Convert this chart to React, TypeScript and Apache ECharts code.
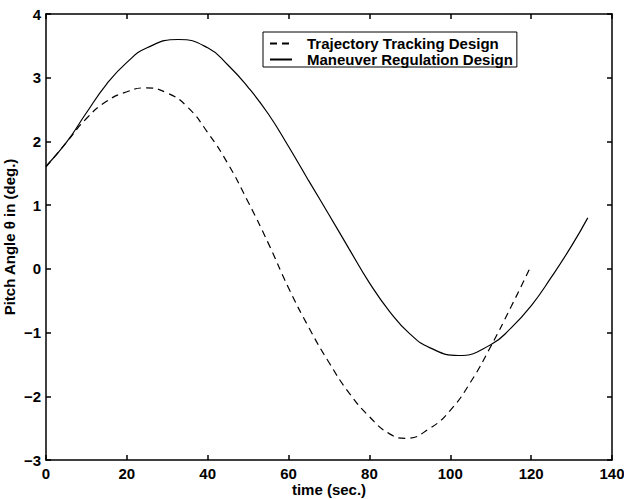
import React, { useEffect, useRef } from "react";
import * as echarts from "echarts";

const xTicks = [0, 20, 40, 60, 80, 100, 120, 140];
const yTicks = [-3, -2, -1, 0, 1, 2, 3, 4];

const seriesNames = ["Trajectory Tracking Design", "Maneuver Regulation Design"];

// Trajectory Tracking Design (dashed): time (sec.) and pitch (deg.)
const trackingTime = [0, 5, 10, 15, 20, 24.5, 30, 35, 40, 45, 50, 55, 60, 65, 70, 75, 80, 85, 89, 95, 100, 105, 110, 115, 120];
const trackingPitch = [1.6, 1.98, 2.36, 2.63, 2.78, 2.84, 2.76, 2.54, 2.14, 1.65, 1.05, 0.4, -0.3, -0.92, -1.47, -1.95, -2.32, -2.59, -2.66, -2.5, -2.22, -1.78, -1.22, -0.6, 0.05];

// Maneuver Regulation Design (solid): time (sec.) and pitch (deg.)
const regulationTime = [0, 5, 10, 15, 20, 25, 32.7, 40, 45, 50, 55, 60, 65, 70, 75, 80, 85, 90, 95, 102, 110, 115, 120, 125, 130, 134];
const regulationPitch = [1.61, 1.98, 2.45, 2.9, 3.24, 3.47, 3.6, 3.47, 3.2, 2.85, 2.43, 1.92, 1.38, 0.85, 0.31, -0.22, -0.67, -1.02, -1.24, -1.36, -1.19, -0.93, -0.58, -0.13, 0.36, 0.8];

const fontFamily = "'Liberation Sans', Arial, Helvetica, sans-serif";

function fmt(v: number) {
  return v < 0 ? "\u2212" + Math.abs(v) : String(v);
}

export default function App() {
  const ref = useRef<HTMLDivElement>(null);

  useEffect(() => {
    if (!ref.current) return;
    const chart = echarts.init(ref.current, null, { renderer: "svg" });
    const trackingData = trackingTime.map((t, i) => [t, trackingPitch[i]]);
    const regulationData = regulationTime.map((t, i) => [t, regulationPitch[i]]);

    const axisLine = { show: true, onZero: false, lineStyle: { color: "#000", width: 1.5 } };
    const axisTick = { show: true, inside: true, length: 5, lineStyle: { color: "#000", width: 1.5 } };
    const labelStyle = { color: "#000", fontFamily, fontWeight: "bold" as const, fontSize: 15 };

    chart.setOption({
      animation: false,
      backgroundColor: "#fff",
      grid: { left: 46, right: 12, top: 14, bottom: 39, containLabel: false, outerBoundsMode: "none" },
      legend: {
        data: seriesNames,
        orient: "vertical",
        left: 263,
        top: 32,
        padding: [4, 4, 0, 6],
        itemWidth: 22,
        itemHeight: 12,
        itemGap: 1,
        borderColor: "#000",
        borderWidth: 1,
        backgroundColor: "#fff",
        itemStyle: { opacity: 0 },
        textStyle: { ...labelStyle, lineHeight: 15, padding: [0, 0, 0, 10] },
      },
      xAxis: [
        {
          type: "value",
          min: xTicks[0],
          max: xTicks[xTicks.length - 1],
          interval: 20,
          name: "time (sec.)",
          nameLocation: "middle",
          nameMoveOverlap: false,
          nameGap: 22,
          nameTextStyle: { ...labelStyle, fontSize: 15 },
          axisLine,
          axisTick,
          splitLine: { show: false },
          axisLabel: { ...labelStyle, margin: 6, formatter: (v: number) => fmt(v) },
        },
        {
          type: "value",
          position: "top",
          min: xTicks[0],
          max: xTicks[xTicks.length - 1],
          interval: 20,
          axisLine,
          axisTick,
          splitLine: { show: false },
          axisLabel: { show: false },
        },
      ],
      yAxis: [
        {
          type: "value",
          min: yTicks[0],
          max: yTicks[yTicks.length - 1],
          interval: 1,
          name: "Pitch Angle \u03b8 in (deg.)",
          nameLocation: "middle",
          nameMoveOverlap: false,
          nameGap: 29,
          nameTextStyle: { ...labelStyle, fontSize: 15 },
          axisLine,
          axisTick,
          splitLine: { show: false },
          axisLabel: { ...labelStyle, margin: 5, formatter: (v: number) => fmt(v) },
        },
        {
          type: "value",
          position: "right",
          min: yTicks[0],
          max: yTicks[yTicks.length - 1],
          interval: 1,
          axisLine,
          axisTick,
          splitLine: { show: false },
          axisLabel: { show: false },
        },
      ],
      series: [
        {
          name: seriesNames[0],
          type: "line",
          data: trackingData,
          smooth: 0.5,
          symbol: "none",
          lineStyle: { color: "#000", width: 1.2, type: [7, 5] },
          itemStyle: { color: "#000" },
        },
        {
          name: seriesNames[1],
          type: "line",
          data: regulationData,
          smooth: 0.5,
          symbol: "none",
          lineStyle: { color: "#000", width: 1.2, type: "solid" },
          itemStyle: { color: "#000" },
        },
      ],
    });
    return () => chart.dispose();
  }, []);

  return (
    <div
      ref={ref}
      style={{ position: "fixed", left: 0, top: 0, width: 624, height: 499, background: "#fff" }}
    />
  );
}
